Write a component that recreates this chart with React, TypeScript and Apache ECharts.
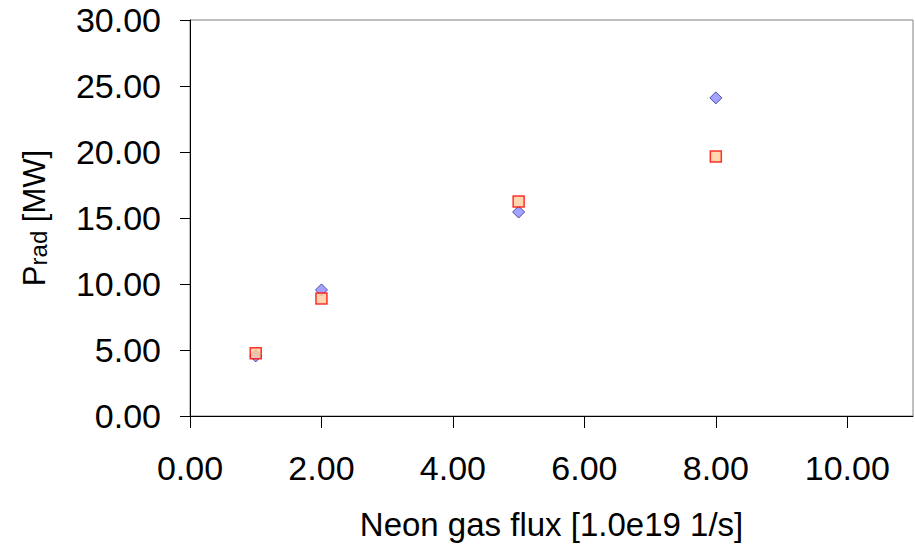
import React, { useEffect, useRef } from "react";
import * as echarts from "echarts";

const xTicks = [0, 2, 4, 6, 8, 10];
const fluxX = [1, 2, 5, 8];
const seriesDiamond = [4.55, 9.55, 15.45, 24.1];
const seriesSquare = [4.75, 8.9, 16.25, 19.65];

export default function App() {
  const ref = useRef<HTMLDivElement>(null);
  useEffect(() => {
    if (!ref.current) return;
    const chart = echarts.init(ref.current, undefined, { renderer: "svg" });
    const font = "'Liberation Sans', Arial, sans-serif";
    chart.setOption({
      animation: false,
      backgroundColor: "#ffffff",
      grid: {
        left: 190,
        right: 2,
        top: 20,
        bottom: 138,
        show: true,
        borderColor: "#808080",
        borderWidth: 1,
      },
      xAxis: {
        type: "value",
        min: 0,
        max: 11,
        interval: 2,
        name: "Neon gas flux [1.0e19 1/s]",
        nameLocation: "middle",
        nameGap: 92,
        nameTextStyle: { fontFamily: font, fontSize: 33, color: "#000" },
        axisLine: { show: true, onZero: false, lineStyle: { color: "#000", width: 1 } },
        axisTick: { show: true, length: 12, customValues: xTicks, lineStyle: { color: "#000" } },
        axisLabel: {
          customValues: xTicks,
          margin: 35,
          fontFamily: font,
          fontSize: 34,
          color: "#000",
          formatter: (v: number) => v.toFixed(2),
        },
        splitLine: { show: false },
      },
      yAxis: {
        type: "value",
        min: 0,
        max: 30,
        interval: 5,
        name: "{a|P}{b|rad}{a| [MW]}",
        nameLocation: "middle",
        nameGap: 140,
        nameTextStyle: {
          fontFamily: font,
          color: "#000",
          rich: {
            a: { fontFamily: font, fontSize: 31, color: "#000", verticalAlign: "bottom" },
            b: { fontFamily: font, fontSize: 24, color: "#000", verticalAlign: "bottom" },
          },
        },
        axisLine: { show: true, lineStyle: { color: "#000", width: 1 } },
        axisTick: { show: true, length: 10, lineStyle: { color: "#000" } },
        axisLabel: {
          margin: 29,
          fontFamily: font,
          fontSize: 34,
          color: "#000",
          formatter: (v: number) => v.toFixed(2),
        },
        splitLine: { show: false },
      },
      series: [
        {
          type: "scatter",
          symbol: "diamond",
          symbolSize: 12,
          data: fluxX.map((x, i) => [x, seriesDiamond[i]]),
          itemStyle: { color: "#8c8cff", borderColor: "#2a2a99", borderWidth: 1 },
          z: 2,
        },
        {
          type: "scatter",
          symbol: "rect",
          symbolSize: 11,
          data: fluxX.map((x, i) => [x, seriesSquare[i]]),
          itemStyle: { color: "#ffcc99", borderColor: "#ff0000", borderWidth: 1.5 },
          z: 3,
        },
      ],
    });
    return () => chart.dispose();
  }, []);
  return (
    <div
      ref={ref}
      style={{ position: "fixed", left: 0, top: 0, width: 915, height: 554, background: "#fff" }}
    />
  );
}
